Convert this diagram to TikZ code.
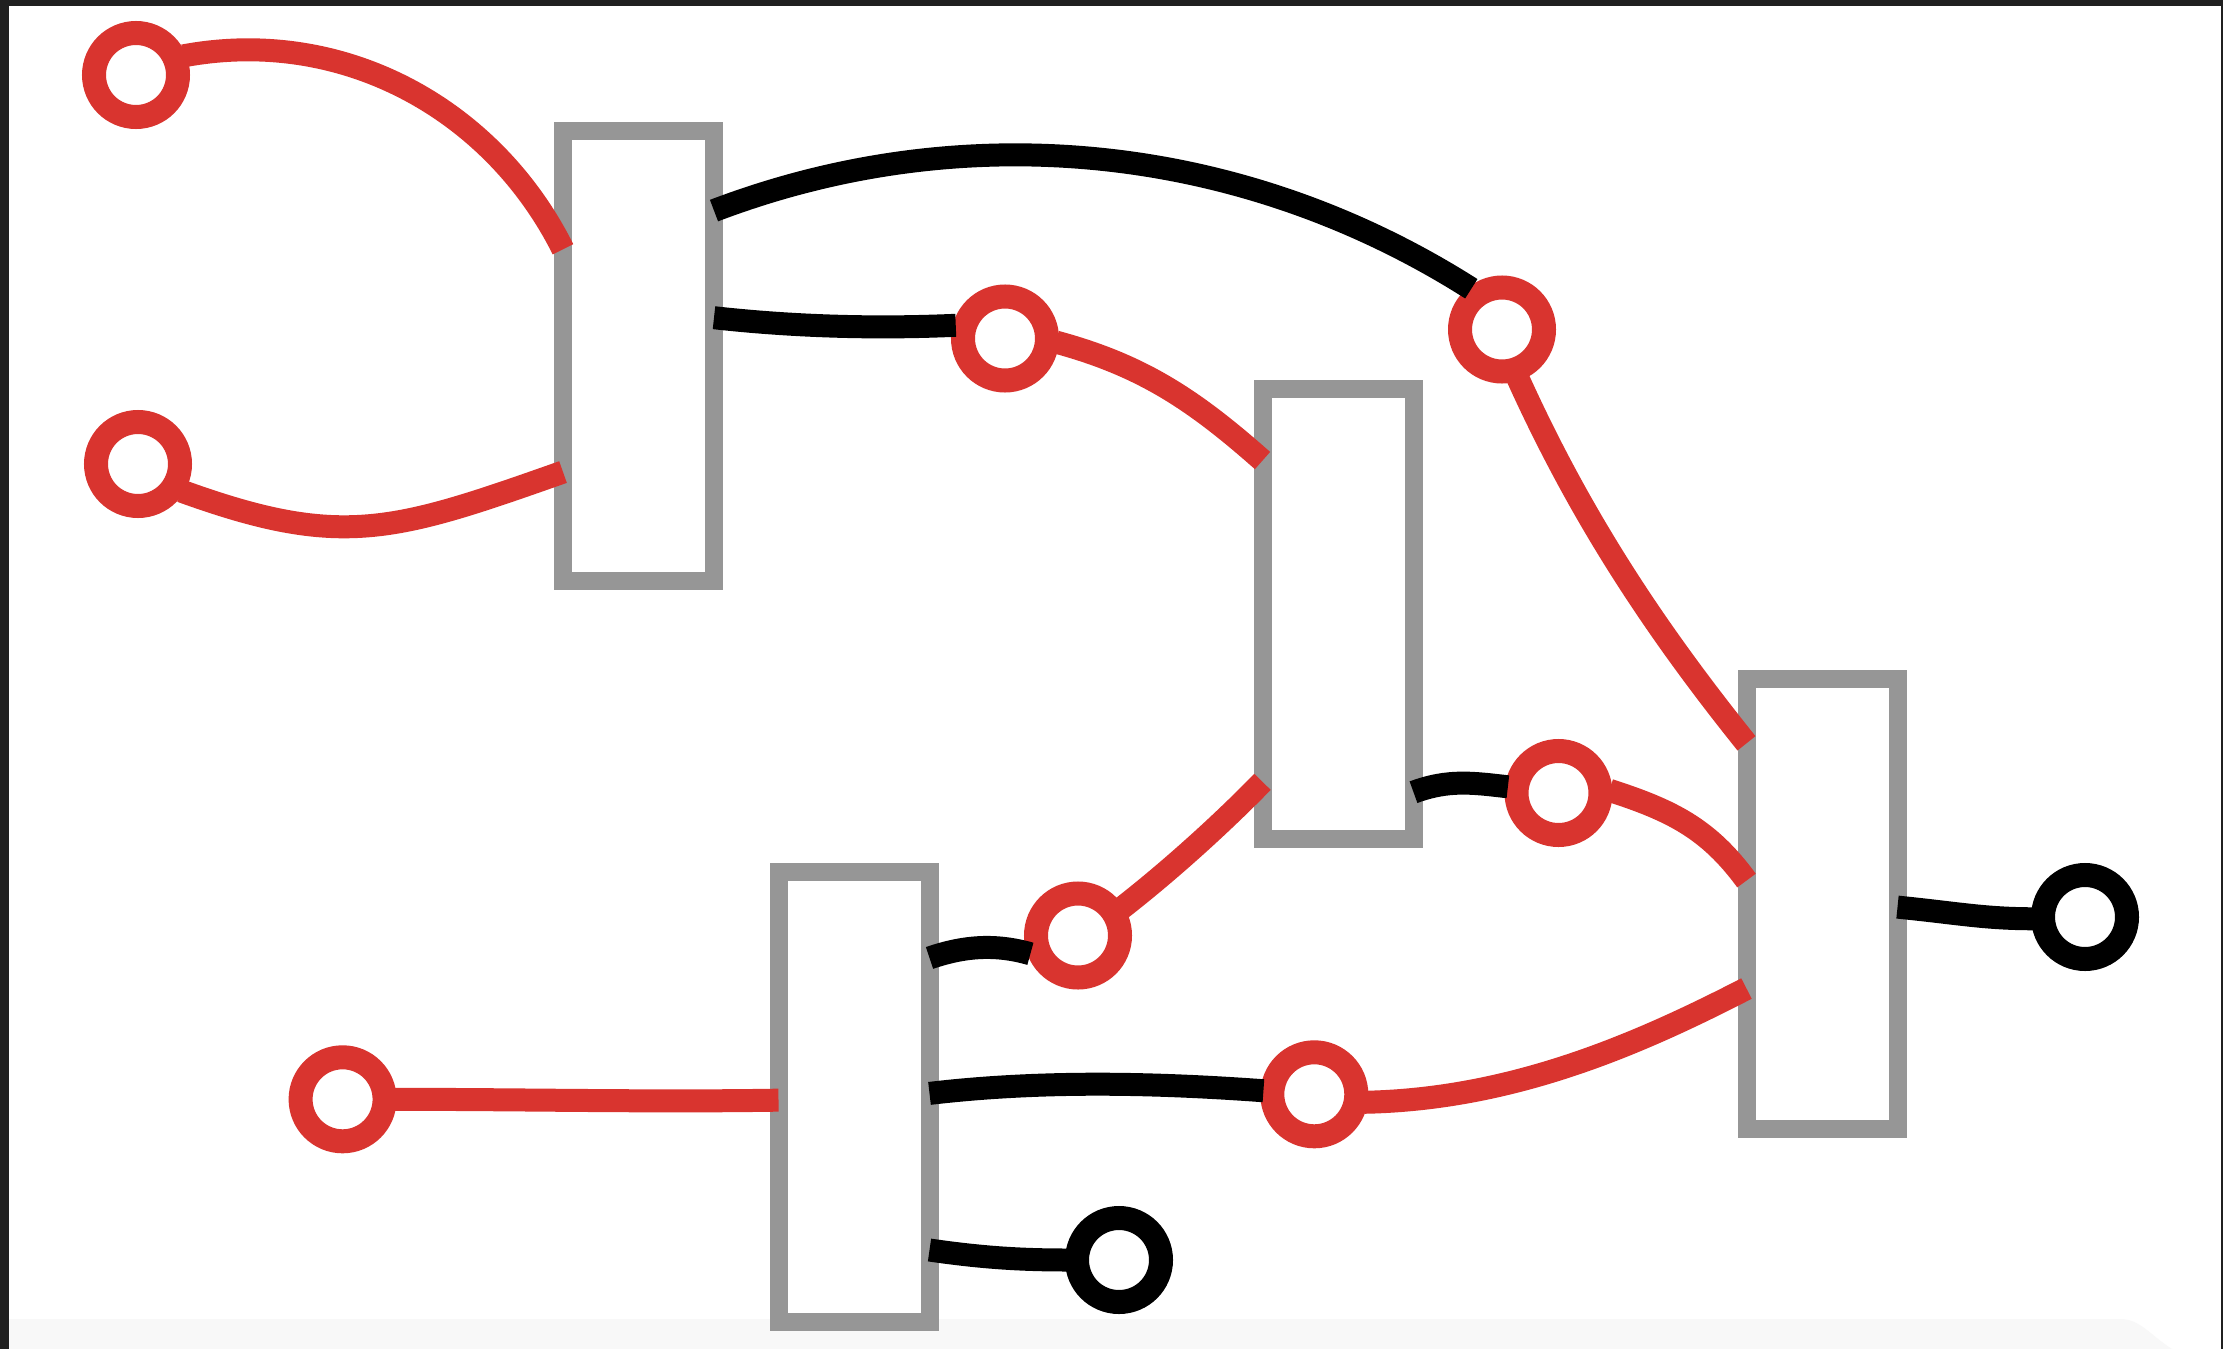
\documentclass[tikz,border=0pt]{standalone}
\usetikzlibrary{calc}
\definecolor{lred}{RGB}{217,52,47}
\definecolor{bgray}{RGB}{150,150,150}
\definecolor{framec}{RGB}{32,32,32}
\definecolor{bandc}{RGB}{248,248,248}
\begin{document}
\begin{tikzpicture}[x=0.5pt,y=-0.5pt,
  port/.style={circle,draw=lred,fill=white,line width=12pt,minimum size=42pt,inner sep=0pt,outer sep=4.5pt},
  kport/.style={port,draw=black},
  unit/.style={rectangle,draw=bgray,fill=white,line width=9pt,minimum width=75.5pt,minimum height=225pt,inner sep=0pt,outer sep=0pt},
  rw/.style={draw=lred,line width=11.5pt},
  kw/.style={draw=black,line width=11.5pt}]
\useasboundingbox (0,0) rectangle (2223,1349);
% background and frame
\fill[white] (0,0) rectangle (2223,1349);
\fill[bandc] (9,1319) -- (2120,1319) .. controls (2140,1319) and (2150,1335) .. (2172,1349) -- (9,1349) -- cycle;
\fill[framec] (0,0) rectangle (2223,6);
\fill[framec] (0,0) rectangle (9,1349);
\fill[framec] (2220.5,0) rectangle (2223,1349);
% boxes
\node[unit] (B1) at (638.5,355.5) {};
\node[unit] (B2) at (1338,614) {};
\node[unit] (B3) at (1822,903.5) {};
\node[unit] (B4) at (854,1097) {};
% ports
\node[port] (A1) at (136,75) {};
\node[port] (A2) at (138,464) {};
\node[port] (A3) at (342.6,1099.3) {};
\node[port] (C1) at (1005,338.5) {};
\node[port] (C2) at (1502,329.5) {};
\node[port] (C3) at (1558.5,793) {};
\node[port] (C4) at (1078,935.5) {};
\node[port] (C5) at (1314.3,1094.3) {};
\node[kport] (D1) at (2085,917) {};
\node[kport] (D2) at (1119,1260) {};
% red connectors
\draw[rw] (A1.22) .. controls +(160,-30) and +(-70,-140) .. ($(B1.north west)!0.264!(B1.south west)$);
\draw[rw] (A2.-32) .. controls +(160,58) and +(-170,60) .. ($(B1.north west)!0.759!(B1.south west)$);
\draw[rw] (C1.-4) .. controls +(85,23) and +(-70,-62) .. ($(B2.north west)!0.159!(B2.south west)$);
\draw[rw] (C2.-72) .. controls +(62,137) and +(-94,-117) .. ($(B3.north west)!0.144!(B3.south west)$);
\draw[rw] (C3.3) .. controls +(62,20) and +(-38,-52) .. ($(B3.north west)!0.449!(B3.south west)$);
\draw[rw] (C4.32) .. controls +(50,-39) and +(-40,41) .. ($(B2.north west)!0.873!(B2.south west)$);
\draw[rw] (A3.0) .. controls +(130,0) and +(-130,2) .. ($(B4.north west)!0.507!(B4.south west)$);
\draw[rw] (C5.-9) .. controls +(150,-3) and +(-105,54) .. ($(B3.north west)!0.689!(B3.south west)$);
% black connectors
\draw[kw] ($(B1.north east)!0.178!(B1.south east)$) .. controls +(252,-96) and +(-228,-145) .. (C2.127);
\draw[kw] ($(B1.north east)!0.416!(B1.south east)$) .. controls +(90,10) and +(-70,3) .. (C1.165);
\draw[kw] ($(B2.north east)!0.896!(B2.south east)$) .. controls +(35,-13) and +(-35,-4) .. (C3.173);
\draw[kw] ($(B3.north east)!0.508!(B3.south east)$) .. controls +(60,6) and +(-50,0) .. (D1.182);
\draw[kw] ($(B4.north east)!0.191!(B4.south east)$) .. controls +(35,-12) and +(-35,-10) .. (C4.201);
\draw[kw] ($(B4.north east)!0.492!(B4.south east)$) .. controls +(110,-13) and +(-110,-8) .. (C5.176);
\draw[kw] ($(B4.north east)!0.84!(B4.south east)$) .. controls +(55,8) and +(-45,0) .. (D2.180);
\end{tikzpicture}
\end{document}
